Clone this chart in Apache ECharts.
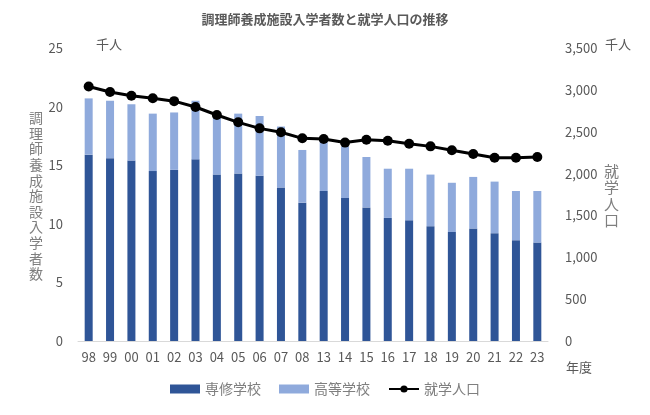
<!DOCTYPE html>
<html>
<head>
<meta charset="utf-8">
<script src="https://cdn.jsdelivr.net/npm/echarts@6/dist/echarts.min.js"></script>
<style>
  html, body { margin: 0; padding: 0; background: #fff; }
  #chart { width: 650px; height: 415px; }
</style>
</head>
<body>
<div id="chart"></div>
<script>
// years (fiscal)
const years = ['98', '99', '00', '01', '02', '03', '04', '05', '06', '07', '08',
  '13', '14', '15', '16', '17', '18', '19', '20', '21', '22', '23'];

// 調理師養成施設入学者数 (千人)
const senshu = [15.9, 15.6, 15.4, 14.5, 14.6, 15.5, 14.2, 14.3, 14.1, 13.1, 11.8,
  12.8, 12.2, 11.4, 10.5, 10.3, 9.8, 9.3, 9.6, 9.2, 8.6, 8.4];
const koutou = [4.8, 4.9, 4.8, 4.9, 4.9, 5.0, 4.9, 5.1, 5.1, 5.2, 4.5,
  4.3, 4.4, 4.3, 4.2, 4.4, 4.4, 4.2, 4.4, 4.4, 4.2, 4.4];

// 就学人口 (千人)
const population = [3040, 2975, 2930, 2900, 2865, 2795, 2700, 2612, 2540, 2493, 2421,
  2413, 2370, 2405, 2393, 2357, 2325, 2278, 2234, 2190, 2190, 2198];

const leftTicks = [0, 25, 5];
const rightTicks = [0, 3500, 500];

const gray = '#595959';
const lightGray = '#7F7F7F';
const font = '"Noto Sans CJK JP", "Noto Sans", sans-serif';

const chart = echarts.init(document.getElementById('chart'));
chart.setOption({
  animation: false,
  textStyle: { fontFamily: font },
  title: {
    text: '調理師養成施設入学者数と就学人口の推移',
    left: 'center',
    top: 8,
    textStyle: { fontSize: 13, fontWeight: 'bold', color: gray, fontFamily: font }
  },
  legend: {
    bottom: 14,
    left: 'center',
    itemGap: 18,
    itemWidth: 30,
    itemHeight: 9,
    textStyle: { fontSize: 14, color: lightGray, fontFamily: font },
    data: [
      { name: '専修学校', icon: 'rect' },
      { name: '高等学校', icon: 'rect' },
      { name: '就学人口' }
    ]
  },
  grid: { left: 78, right: 102, top: 48, bottom: 74 },
  xAxis: {
    type: 'category',
    data: years,
    axisLine: { lineStyle: { color: '#D9D9D9' } },
    axisTick: { show: false },
    axisLabel: { color: gray, fontSize: 13, margin: 10, interval: 0 }
  },
  yAxis: [
    {
      type: 'value',
      min: leftTicks[0], max: leftTicks[1], interval: leftTicks[2],
      axisLine: { show: false },
      axisTick: { show: false },
      splitLine: { show: false },
      axisLabel: { color: gray, fontSize: 13, margin: 15 }
    },
    {
      type: 'value',
      min: rightTicks[0], max: rightTicks[1], interval: rightTicks[2],
      axisLine: { show: false },
      axisTick: { show: false },
      splitLine: { show: false },
      axisLabel: {
        color: gray, fontSize: 13, margin: 17,
        formatter: v => v.toLocaleString('en-US')
      }
    }
  ],
  series: [
    {
      name: '専修学校',
      type: 'bar',
      stack: 'school',
      data: senshu,
      barWidth: 8,
      itemStyle: { color: '#2F5597' }
    },
    {
      name: '高等学校',
      type: 'bar',
      stack: 'school',
      data: koutou,
      barWidth: 8,
      itemStyle: { color: '#8FAADC' }
    },
    {
      name: '就学人口',
      type: 'line',
      yAxisIndex: 1,
      data: population,
      symbol: 'circle',
      symbolSize: 10,
      lineStyle: { color: '#000', width: 3 },
      itemStyle: { color: '#000' }
    }
  ],
  graphic: [
    { type: 'text', left: 96, top: 38, style: { text: '千人', fontSize: 13, fill: gray, fontFamily: font } },
    { type: 'text', left: 605, top: 38, style: { text: '千人', fontSize: 13, fill: gray, fontFamily: font } },
    { type: 'text', left: 566, top: 361, style: { text: '年度', fontSize: 13, fill: gray, fontFamily: font } },
    {
      type: 'text', left: 29, top: 110,
      style: { text: '調理師養成施設入学者数'.split('').join('\n'), fontSize: 14, lineHeight: 15.6, fill: lightGray, fontFamily: font }
    },
    {
      type: 'text', left: 604, top: 163,
      style: { text: '就学人口'.split('').join('\n'), fontSize: 15, lineHeight: 16.5, fill: lightGray, fontFamily: font }
    }
  ]
});
</script>
</body>
</html>
